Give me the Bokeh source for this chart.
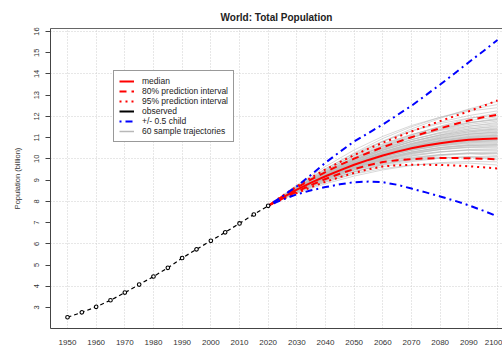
from bokeh.plotting import figure
from bokeh.models import Range1d, FixedTicker, Legend, LegendItem, LinearAxis
from bokeh.embed import file_html
from bokeh.resources import INLINE

FONT = "Liberation Sans"
NAN = float("nan")

# ---- data ----
obs_years = [1950, 1955, 1960, 1965, 1970, 1975, 1980, 1985, 1990, 1995, 2000, 2005, 2010, 2015, 2020]
obs_pop = [2.54, 2.77, 3.03, 3.34, 3.70, 4.08, 4.46, 4.87, 5.33, 5.74, 6.14, 6.54, 6.96, 7.38, 7.79]

proj_years = [2020, 2025, 2030, 2035, 2040, 2045, 2050, 2055, 2060, 2065, 2070, 2075, 2080, 2085, 2090, 2095, 2100]
median = [7.79, 8.18, 8.55, 8.88, 9.18, 9.46, 9.72, 9.95, 10.16, 10.34, 10.50, 10.63, 10.74, 10.83, 10.90, 10.94, 10.96]
pi80_low = [7.79, 8.13, 8.46, 8.77, 9.05, 9.30, 9.52, 9.70, 9.85, 9.94, 9.99, 10.02, 10.04, 10.04, 10.03, 10.01, 9.98]
pi80_high = [7.79, 8.23, 8.65, 9.03, 9.38, 9.71, 10.01, 10.29, 10.55, 10.79, 11.02, 11.24, 11.44, 11.63, 11.81, 11.96, 12.08]
pi95_low = [7.79, 8.10, 8.39, 8.67, 8.92, 9.14, 9.34, 9.51, 9.64, 9.70, 9.72, 9.72, 9.71, 9.69, 9.65, 9.60, 9.55]
pi95_high = [7.79, 8.26, 8.71, 9.12, 9.50, 9.85, 10.18, 10.48, 10.76, 11.03, 11.29, 11.54, 11.78, 12.01, 12.24, 12.49, 12.75]
half_child_high = [7.79, 8.24, 8.71, 9.25, 9.82, 10.33, 10.82, 11.22, 11.62, 12.06, 12.50, 13.00, 13.50, 14.02, 14.55, 15.07, 15.60]
half_child_low = [7.79, 8.08, 8.33, 8.52, 8.67, 8.80, 8.90, 8.93, 8.90, 8.78, 8.60, 8.42, 8.23, 8.03, 7.81, 7.56, 7.29]

traj_years = [2020, 2030, 2040, 2050, 2060, 2070, 2080, 2090, 2100]
trajectories = [
    [7.79, 8.43, 8.91, 9.28, 9.54, 9.71, 9.79, 9.80, 9.71],
    [7.79, 8.39, 8.83, 9.19, 9.48, 9.69, 9.82, 9.88, 9.86],
    [7.79, 8.49, 9.04, 9.47, 9.78, 9.98, 10.07, 10.07, 9.96],
    [7.79, 8.46, 8.98, 9.40, 9.70, 9.92, 10.04, 10.09, 10.04],
    [7.79, 8.42, 8.91, 9.31, 9.63, 9.87, 10.03, 10.11, 10.11],
    [7.79, 8.50, 9.07, 9.52, 9.86, 10.08, 10.20, 10.24, 10.16],
    [7.79, 8.48, 9.02, 9.47, 9.80, 10.05, 10.19, 10.27, 10.24],
    [7.79, 8.45, 8.97, 9.40, 9.75, 10.01, 10.19, 10.29, 10.30],
    [7.79, 8.51, 9.10, 9.57, 9.93, 10.19, 10.34, 10.40, 10.36],
    [7.79, 8.50, 9.06, 9.53, 9.89, 10.15, 10.32, 10.42, 10.41],
    [7.79, 8.48, 9.02, 9.48, 9.85, 10.13, 10.32, 10.44, 10.46],
    [7.79, 8.52, 9.12, 9.61, 9.99, 10.27, 10.44, 10.53, 10.51],
    [7.79, 8.51, 9.09, 9.58, 9.96, 10.25, 10.44, 10.55, 10.56],
    [7.79, 8.50, 9.07, 9.55, 9.94, 10.23, 10.44, 10.57, 10.60],
    [7.79, 8.53, 9.14, 9.64, 10.04, 10.33, 10.53, 10.63, 10.64],
    [7.79, 8.52, 9.12, 9.62, 10.02, 10.32, 10.53, 10.65, 10.68],
    [7.79, 8.51, 9.10, 9.61, 10.01, 10.32, 10.54, 10.68, 10.72],
    [7.79, 8.54, 9.15, 9.67, 10.08, 10.40, 10.61, 10.73, 10.76],
    [7.79, 8.53, 9.15, 9.66, 10.08, 10.40, 10.62, 10.76, 10.80],
    [7.79, 8.53, 9.14, 9.66, 10.09, 10.41, 10.64, 10.79, 10.84],
    [7.79, 8.55, 9.17, 9.70, 10.13, 10.46, 10.69, 10.83, 10.88],
    [7.79, 8.54, 9.17, 9.70, 10.14, 10.47, 10.70, 10.86, 10.91],
    [7.79, 8.55, 9.17, 9.71, 10.15, 10.49, 10.72, 10.88, 10.94],
    [7.79, 8.55, 9.18, 9.72, 10.16, 10.50, 10.75, 10.91, 10.97],
    [7.79, 8.55, 9.19, 9.73, 10.18, 10.53, 10.77, 10.94, 11.00],
    [7.79, 8.56, 9.20, 9.75, 10.20, 10.55, 10.80, 10.97, 11.03],
    [7.79, 8.56, 9.19, 9.75, 10.20, 10.55, 10.81, 10.98, 11.06],
    [7.79, 8.56, 9.21, 9.77, 10.23, 10.58, 10.84, 11.01, 11.09],
    [7.79, 8.57, 9.23, 9.80, 10.26, 10.62, 10.87, 11.05, 11.12],
    [7.79, 8.56, 9.21, 9.77, 10.24, 10.60, 10.87, 11.07, 11.16],
    [7.79, 8.57, 9.23, 9.80, 10.28, 10.65, 10.92, 11.11, 11.20],
    [7.79, 8.59, 9.27, 9.85, 10.33, 10.71, 10.98, 11.16, 11.24],
    [7.79, 8.57, 9.23, 9.80, 10.28, 10.67, 10.95, 11.17, 11.28],
    [7.79, 8.59, 9.26, 9.85, 10.34, 10.73, 11.01, 11.22, 11.32],
    [7.79, 8.61, 9.31, 9.91, 10.41, 10.80, 11.08, 11.27, 11.36],
    [7.79, 8.58, 9.24, 9.83, 10.33, 10.73, 11.04, 11.27, 11.41],
    [7.79, 8.60, 9.29, 9.90, 10.41, 10.82, 11.12, 11.34, 11.46],
    [7.79, 8.63, 9.36, 9.98, 10.50, 10.91, 11.20, 11.41, 11.51],
    [7.79, 8.59, 9.26, 9.87, 10.39, 10.81, 11.14, 11.40, 11.56],
    [7.79, 8.62, 9.32, 9.95, 10.49, 10.91, 11.23, 11.47, 11.61],
    [7.79, 8.66, 9.40, 10.06, 10.59, 11.02, 11.33, 11.55, 11.66],
    [7.79, 8.60, 9.29, 9.91, 10.45, 10.90, 11.25, 11.53, 11.72],
    [7.79, 8.63, 9.36, 10.01, 10.57, 11.02, 11.36, 11.62, 11.78],
    [7.79, 8.68, 9.46, 10.14, 10.71, 11.15, 11.48, 11.72, 11.84],
    [7.79, 8.61, 9.31, 9.96, 10.52, 10.99, 11.38, 11.69, 11.91],
    [7.79, 8.65, 9.40, 10.08, 10.67, 11.14, 11.52, 11.80, 11.98],
    [7.79, 8.72, 9.53, 10.25, 10.84, 11.31, 11.66, 11.92, 12.06],
    [7.79, 8.62, 9.35, 10.02, 10.62, 11.12, 11.54, 11.90, 12.16],
    [7.79, 8.68, 9.47, 10.18, 10.81, 11.32, 11.73, 12.04, 12.26],
    [7.79, 8.77, 9.64, 10.42, 11.06, 11.57, 11.96, 12.25, 12.41],
    [7.79, 8.71, 9.53, 10.28, 10.96, 11.51, 11.96, 12.31, 12.56],
    [7.79, 8.66, 9.43, 10.16, 10.83, 11.41, 11.91, 12.35, 12.71],
    [7.79, 8.51, 9.08, 9.58, 9.97, 10.28, 10.49, 10.62, 10.66],
    [7.79, 8.53, 9.15, 9.70, 10.15, 10.51, 10.76, 10.92, 10.96],
    [7.79, 8.58, 9.25, 9.83, 10.31, 10.69, 10.97, 11.16, 11.26],
    [7.79, 8.45, 8.96, 9.38, 9.73, 9.98, 10.15, 10.25, 10.26],
    [7.79, 8.64, 9.38, 10.04, 10.61, 11.07, 11.42, 11.69, 11.86],
    [7.79, 8.56, 9.20, 9.76, 10.22, 10.58, 10.84, 11.02, 11.11],
    [7.79, 8.54, 9.16, 9.69, 10.11, 10.44, 10.66, 10.81, 10.86],
    [7.79, 8.62, 9.32, 9.94, 10.44, 10.83, 11.12, 11.32, 11.41],
]

x_ticks = [1950, 1960, 1970, 1980, 1990, 2000, 2010, 2020, 2030, 2040, 2050, 2060, 2070, 2080, 2090, 2100]
y_ticks = [3, 4, 5, 6, 7, 8, 9, 10, 11, 12, 13, 14, 15, 16]
y_grid = [4, 6, 8, 10, 12, 14, 16]

title_text = "World: Total Population"
y_label = "Population (billion)"
legend_labels = ["median", "80% prediction interval", "95% prediction interval",
                 "observed", "+/- 0.5 child", "60 sample trajectories"]

# ---- figure ----
p = figure(width=502, height=351, output_backend="svg", toolbar_location=None,
           x_range=Range1d(1944.07, 2101.74), y_range=Range1d(2.01, 16.14),
           min_border_left=50, min_border_right=0, min_border_top=28, min_border_bottom=23)
p.outline_line_color = None
p.background_fill_color = "white"
p.border_fill_color = "white"

p.title.text = title_text
p.title.align = "center"
p.title.text_font = FONT
p.title.text_font_size = "10px"
p.title.text_font_style = "bold"
p.title.text_color = "#222222"
p.title.offset = 6
p.title.standoff = 12

# x axis (bottom)
xax = p.below[0]
xax.ticker = FixedTicker(ticks=x_ticks)
xax.major_tick_out = 0
xax.major_tick_in = 0
xax.minor_tick_out = 0
xax.minor_tick_in = 0
xax.major_label_standoff = 11
xax.major_label_text_font = FONT
xax.major_label_text_font_size = "8px"
xax.major_label_text_color = "#333333"
xax.axis_line_color = "#444444"

# top border line (frame top)
top_axis = LinearAxis(ticker=FixedTicker(ticks=[]), axis_line_color="#666666",
                      major_tick_out=0, major_tick_in=0, minor_tick_out=0, minor_tick_in=0,
                      major_label_standoff=0)
p.add_layout(top_axis, "above")

# y axis
yax = p.left[0]
yax.ticker = FixedTicker(ticks=y_ticks)
yax.major_tick_out = 5
yax.major_tick_in = 0
yax.minor_tick_out = 0
yax.minor_tick_in = 0
yax.major_label_orientation = "vertical"
yax.major_label_standoff = 6
yax.major_label_text_font = FONT
yax.major_label_text_font_size = "7.5px"
yax.major_label_text_color = "#333333"
yax.axis_line_color = "#444444"
yax.major_tick_line_color = "#444444"
yax.axis_label = y_label
yax.axis_label_text_font = FONT
yax.axis_label_text_font_size = "7.5px"
yax.axis_label_text_font_style = "normal"
yax.axis_label_text_color = "#333333"
yax.axis_label_standoff = 10

# grid
p.xgrid.ticker = FixedTicker(ticks=x_ticks)
p.ygrid.ticker = FixedTicker(ticks=y_grid)
for g in (p.xgrid, p.ygrid):
    g.grid_line_color = "#cfcfcf"
    g.grid_line_dash = "1 2"
    g.grid_line_width = 1

# ---- glyphs ----
r_traj = p.multi_line(xs=[traj_years] * len(trajectories), ys=trajectories,
                      line_color="#b8b8b8", line_alpha=0.55, line_width=1)

r_95l = p.line(proj_years, pi95_low, line_color="#ff0000", line_width=2, line_dash="2 4")
r_95h = p.line(proj_years, pi95_high, line_color="#ff0000", line_width=2, line_dash="2 4")
r_80l = p.line(proj_years, pi80_low, line_color="#ff0000", line_width=2, line_dash="7 5")
r_80h = p.line(proj_years, pi80_high, line_color="#ff0000", line_width=2, line_dash="7 5")
r_med = p.line(proj_years, median, line_color="#ff0000", line_width=2)

r_hh = p.line(proj_years, half_child_high, line_color="#0000ff", line_width=2, line_dash="2 4 7 4")
r_hl = p.line(proj_years, half_child_low, line_color="#0000ff", line_width=2, line_dash="2 4 7 4")

r_obs = p.line(obs_years, obs_pop, line_color="black", line_width=1.2, line_dash="4 3")
p.scatter(obs_years, obs_pop, marker="circle", size=3.6, fill_color="white",
          line_color="black", line_width=1.1)

# legend proxies (solid black "observed", grey trajectory), no visible data
r_obs_leg = p.line(x=[NAN, NAN], y=[NAN, NAN], line_color="black", line_width=2)
r_traj_leg = p.line(x=[NAN, NAN], y=[NAN, NAN], line_color="#b8b8b8", line_width=1.5)

legend = Legend(items=[
    LegendItem(label=legend_labels[0], renderers=[r_med]),
    LegendItem(label=legend_labels[1], renderers=[r_80l]),
    LegendItem(label=legend_labels[2], renderers=[r_95l]),
    LegendItem(label=legend_labels[3], renderers=[r_obs_leg]),
    LegendItem(label=legend_labels[4], renderers=[r_hh]),
    LegendItem(label=legend_labels[5], renderers=[r_traj_leg]),
], location=(63, 186))
legend.padding = 5
legend.margin = 0
legend.spacing = 0
legend.label_height = 10
legend.glyph_height = 10
legend.glyph_width = 15
legend.label_standoff = 8
legend.label_text_font = FONT
legend.label_text_font_size = "8.5px"
legend.label_text_color = "#222222"
legend.border_line_color = "#333333"
legend.border_line_width = 1
legend.background_fill_alpha = 1.0
p.add_layout(legend)

open("out.html", "w").write(file_html(p, INLINE))
